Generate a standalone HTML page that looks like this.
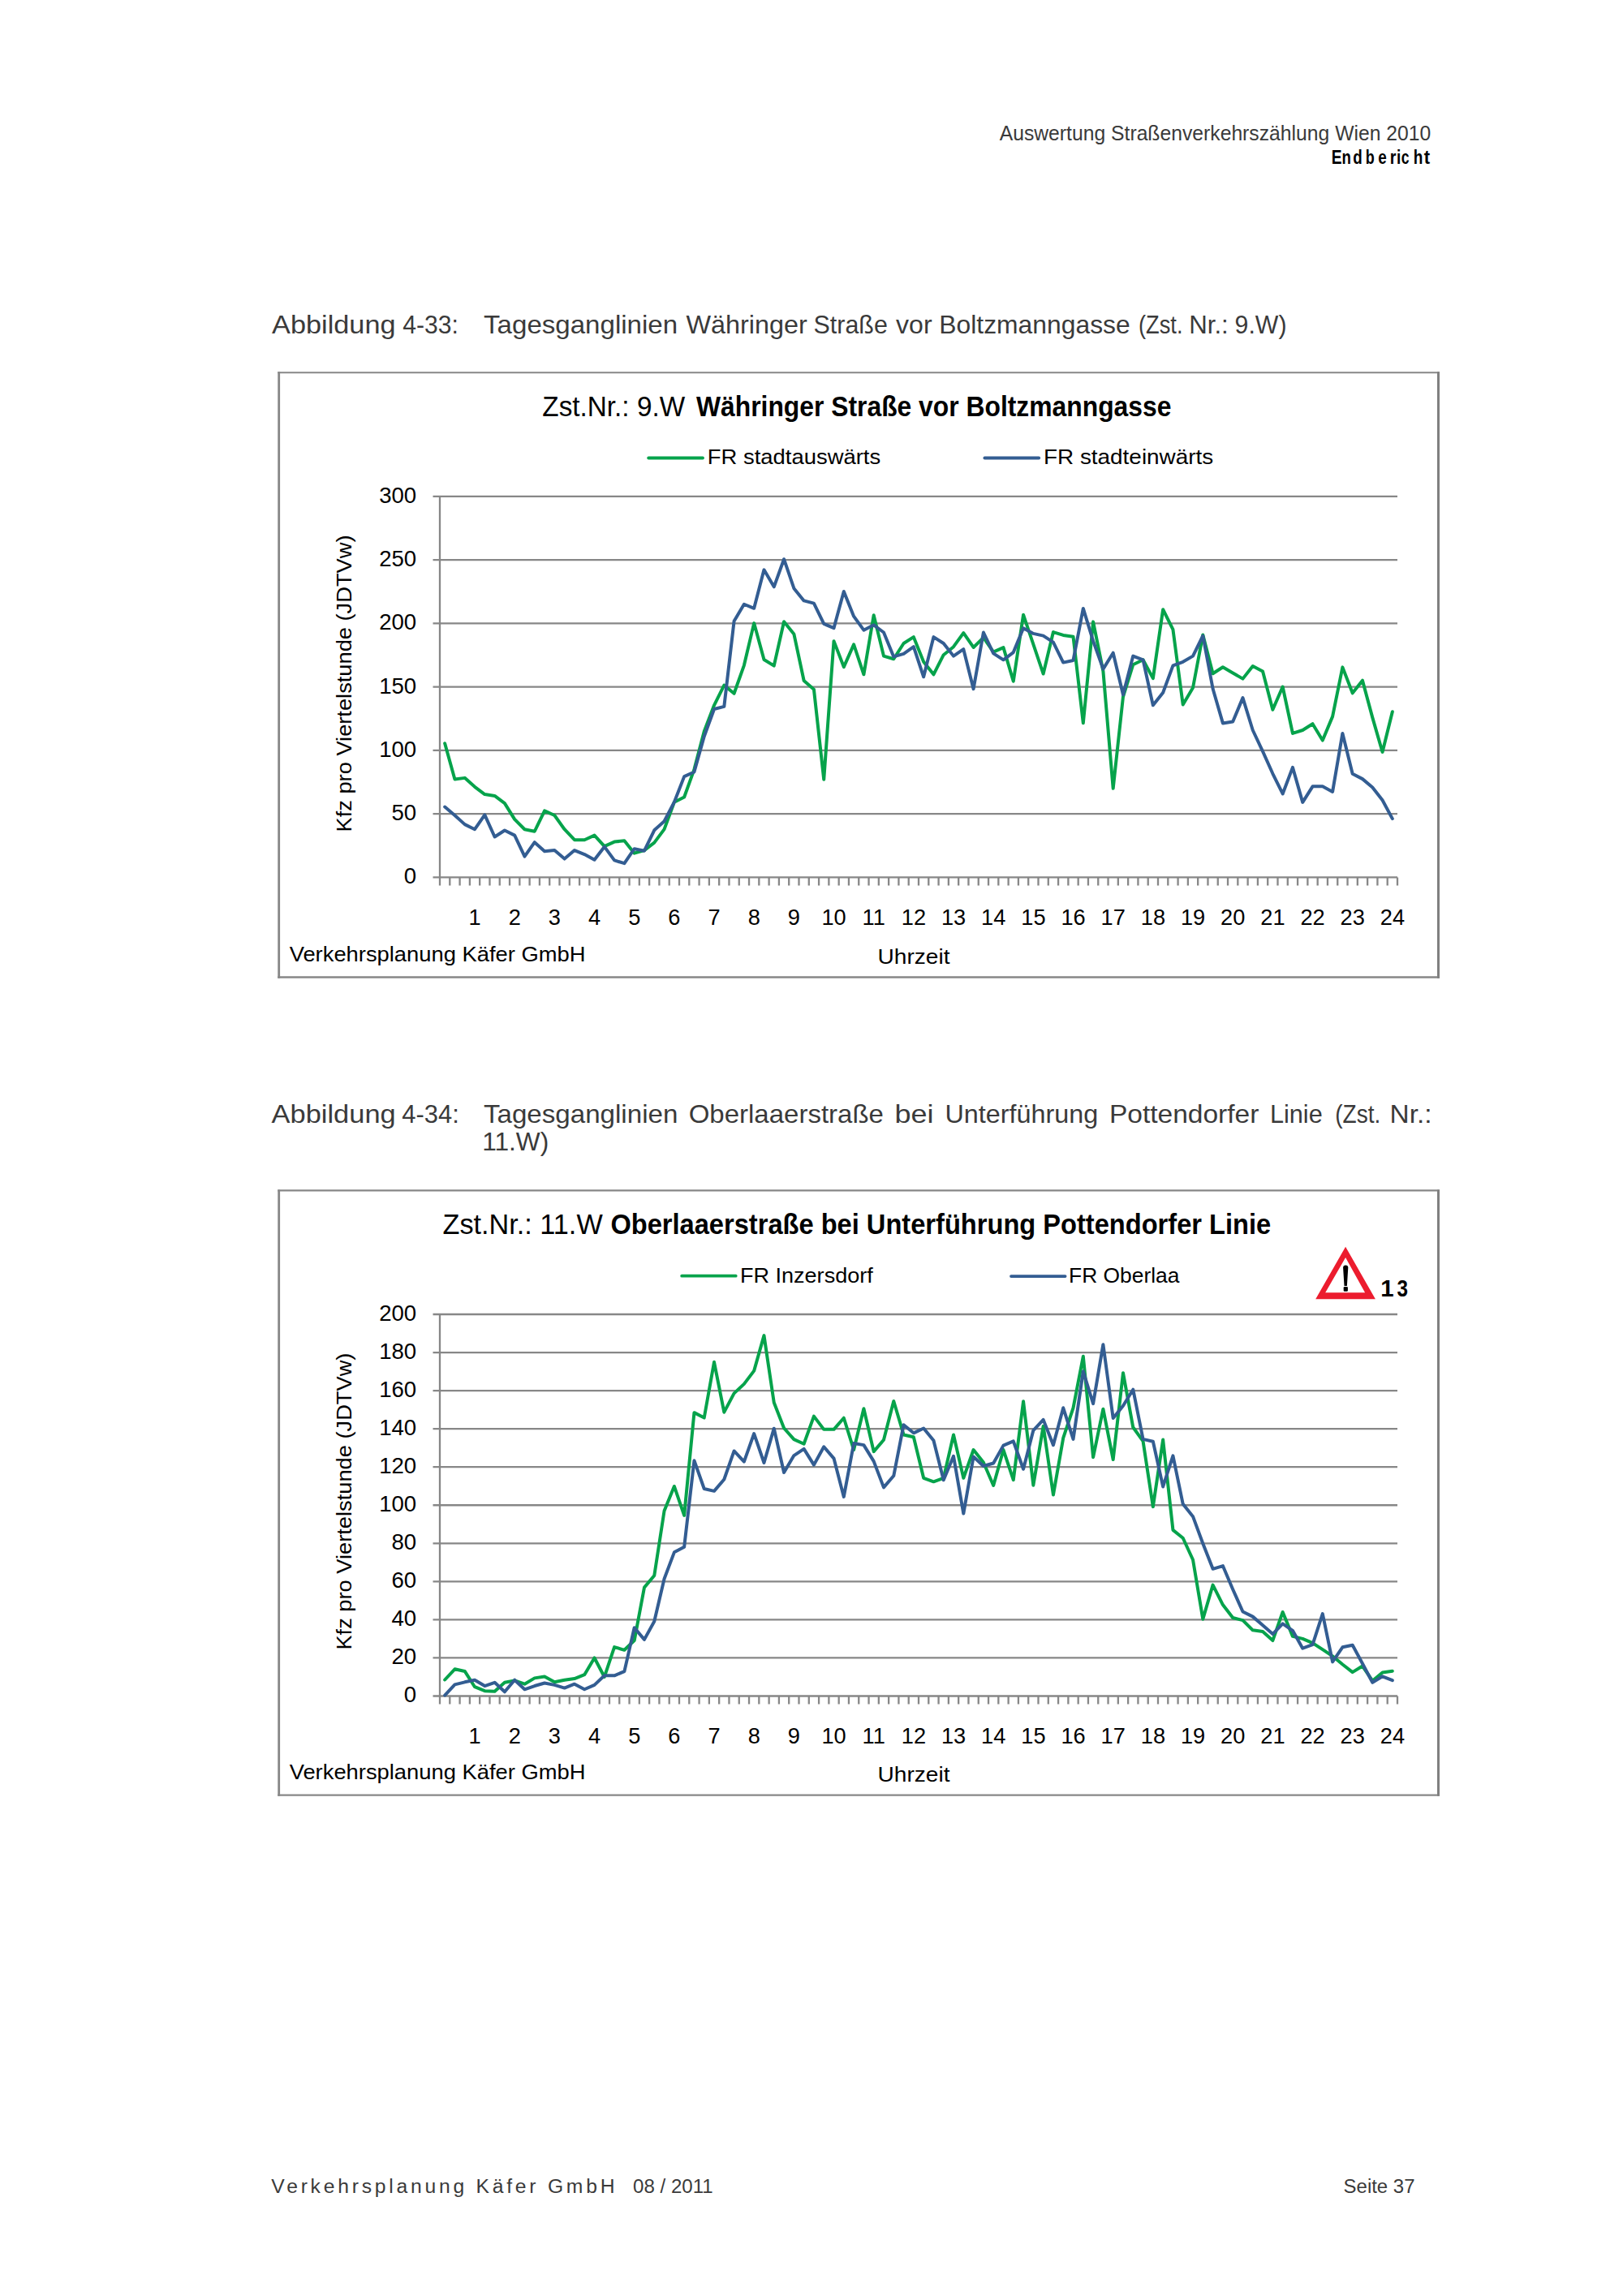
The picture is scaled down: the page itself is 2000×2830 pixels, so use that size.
<!DOCTYPE html>
<html><head><meta charset="utf-8"><title>Tagesganglinien</title>
<style>
html,body{margin:0;padding:0;background:#fff;}
body{width:2000px;height:2830px;overflow:hidden;}
svg{display:block;}
text{font-family:'Liberation Sans', Arial, sans-serif;fill:#000;}
text.d{fill:#3a3a3a;}
</style></head>
<body>
<svg width="2000" height="2830" viewBox="0 0 2000 2830">
<rect width="2000" height="2830" fill="#fff"/>
<text x="1231.7" y="172.6" font-size="25.3" textLength="531.6" lengthAdjust="spacingAndGlyphs" class="d">Auswertung Straßenverkehrszählung Wien 2010</text>
<text x="1640.8" y="201.6" font-size="24.6" textLength="12.8" lengthAdjust="spacingAndGlyphs" font-weight="bold">E</text>
<text x="1653.4" y="201.6" font-size="24.6" textLength="11.4" lengthAdjust="spacingAndGlyphs" font-weight="bold">n</text>
<text x="1667.2" y="201.6" font-size="24.6" textLength="11.5" lengthAdjust="spacingAndGlyphs" font-weight="bold">d</text>
<text x="1682.7" y="201.6" font-size="24.6" textLength="11.0" lengthAdjust="spacingAndGlyphs" font-weight="bold">b</text>
<text x="1698.3" y="201.6" font-size="24.6" textLength="10.5" lengthAdjust="spacingAndGlyphs" font-weight="bold">e</text>
<text x="1712.8" y="201.6" font-size="24.6" textLength="7.7" lengthAdjust="spacingAndGlyphs" font-weight="bold">r</text>
<text x="1721.0" y="201.6" font-size="24.6" textLength="5.3" lengthAdjust="spacingAndGlyphs" font-weight="bold">i</text>
<text x="1726.8" y="201.6" font-size="24.6" textLength="9.8" lengthAdjust="spacingAndGlyphs" font-weight="bold">c</text>
<text x="1741.7" y="201.6" font-size="24.6" textLength="11.6" lengthAdjust="spacingAndGlyphs" font-weight="bold">h</text>
<text x="1754.8" y="201.6" font-size="24.6" textLength="7.4" lengthAdjust="spacingAndGlyphs" font-weight="bold">t</text>
<text x="335.1" y="411.0" font-size="31.2" textLength="152.4" lengthAdjust="spacingAndGlyphs" class="d">Abbildung</text>
<text x="496.2" y="411.0" font-size="31.2" textLength="68.6" lengthAdjust="spacingAndGlyphs" class="d">4-33:</text>
<text x="596.1" y="411.0" font-size="31.2" textLength="239.0" lengthAdjust="spacingAndGlyphs" class="d">Tagesganglinien</text>
<text x="845.5" y="411.0" font-size="31.2" textLength="149.3" lengthAdjust="spacingAndGlyphs" class="d">Währinger</text>
<text x="1002.6" y="411.0" font-size="31.2" textLength="91.2" lengthAdjust="spacingAndGlyphs" class="d">Straße</text>
<text x="1104.1" y="411.0" font-size="31.2" textLength="44.5" lengthAdjust="spacingAndGlyphs" class="d">vor</text>
<text x="1157.3" y="411.0" font-size="31.2" textLength="235.4" lengthAdjust="spacingAndGlyphs" class="d">Boltzmanngasse</text>
<text x="1403.0" y="411.0" font-size="31.2" textLength="54.5" lengthAdjust="spacingAndGlyphs" class="d">(Zst.</text>
<text x="1465.2" y="411.0" font-size="31.2" textLength="48.6" lengthAdjust="spacingAndGlyphs" class="d">Nr.:</text>
<text x="1521.6" y="411.0" font-size="31.2" textLength="63.9" lengthAdjust="spacingAndGlyphs" class="d">9.W)</text>
<text x="334.6" y="1383.5" font-size="31.2" textLength="153.1" lengthAdjust="spacingAndGlyphs" class="d">Abbildung</text>
<text x="495.3" y="1383.5" font-size="31.2" textLength="70.5" lengthAdjust="spacingAndGlyphs" class="d">4-34:</text>
<text x="595.9" y="1383.5" font-size="31.2" textLength="239.5" lengthAdjust="spacingAndGlyphs" class="d">Tagesganglinien</text>
<text x="848.7" y="1383.5" font-size="31.2" textLength="240.2" lengthAdjust="spacingAndGlyphs" class="d">Oberlaaerstraße</text>
<text x="1102.5" y="1383.5" font-size="31.2" textLength="48.1" lengthAdjust="spacingAndGlyphs" class="d">bei</text>
<text x="1164.5" y="1383.5" font-size="31.2" textLength="188.8" lengthAdjust="spacingAndGlyphs" class="d">Unterführung</text>
<text x="1366.9" y="1383.5" font-size="31.2" textLength="184.5" lengthAdjust="spacingAndGlyphs" class="d">Pottendorfer</text>
<text x="1564.9" y="1383.5" font-size="31.2" textLength="64.9" lengthAdjust="spacingAndGlyphs" class="d">Linie</text>
<text x="1645.2" y="1383.5" font-size="31.2" textLength="56.1" lengthAdjust="spacingAndGlyphs" class="d">(Zst.</text>
<text x="1712.6" y="1383.5" font-size="31.2" textLength="52.0" lengthAdjust="spacingAndGlyphs" class="d">Nr.:</text>
<text x="594.2" y="1418.4" font-size="31.2" textLength="82.1" lengthAdjust="spacingAndGlyphs" class="d">11.W)</text>
<text x="334.3" y="2702.9" font-size="24.7" textLength="423.2" lengthAdjust="spacing" class="d">Verkehrsplanung Käfer GmbH</text>
<text x="780.1" y="2702.9" font-size="24.7" textLength="98.6" lengthAdjust="spacingAndGlyphs" class="d">08 / 2011</text>
<text x="1655.6" y="2702.7" font-size="24.7" textLength="87.9" lengthAdjust="spacingAndGlyphs" class="d">Seite 37</text>
<path d="M342.3 459.3H1774.0" stroke="#878787" stroke-width="2.1"/>
<path d="M342.3 1204.5H1774.0" stroke="#878787" stroke-width="2.4"/>
<path d="M343.7 458.2V1205.7" stroke="#878787" stroke-width="2.8"/>
<path d="M1772.5 458.2V1205.7" stroke="#808080" stroke-width="3.0"/>
<text x="513.2" y="1089.2" font-size="27.6" text-anchor="end">0</text>
<text x="513.2" y="1011.0" font-size="27.6" text-anchor="end">50</text>
<text x="513.2" y="932.7" font-size="27.6" text-anchor="end">100</text>
<text x="513.2" y="854.5" font-size="27.6" text-anchor="end">150</text>
<text x="513.2" y="776.2" font-size="27.6" text-anchor="end">200</text>
<text x="513.2" y="697.9" font-size="27.6" text-anchor="end">250</text>
<text x="513.2" y="619.7" font-size="27.6" text-anchor="end">300</text>
<path d="M533.5 1081.40H1722.0 M533.5 1003.15H1722.0 M533.5 924.90H1722.0 M533.5 846.65H1722.0 M533.5 768.40H1722.0 M533.5 690.15H1722.0 M533.5 611.90H1722.0 M542.0 611.90V1091.40 M554.29 1081.40V1091.40 M566.58 1081.40V1091.40 M578.88 1081.40V1091.40 M591.17 1081.40V1091.40 M603.46 1081.40V1091.40 M615.75 1081.40V1091.40 M628.04 1081.40V1091.40 M640.33 1081.40V1091.40 M652.62 1081.40V1091.40 M664.92 1081.40V1091.40 M677.21 1081.40V1091.40 M689.50 1081.40V1091.40 M701.79 1081.40V1091.40 M714.08 1081.40V1091.40 M726.38 1081.40V1091.40 M738.67 1081.40V1091.40 M750.96 1081.40V1091.40 M763.25 1081.40V1091.40 M775.54 1081.40V1091.40 M787.83 1081.40V1091.40 M800.12 1081.40V1091.40 M812.42 1081.40V1091.40 M824.71 1081.40V1091.40 M837.00 1081.40V1091.40 M849.29 1081.40V1091.40 M861.58 1081.40V1091.40 M873.88 1081.40V1091.40 M886.17 1081.40V1091.40 M898.46 1081.40V1091.40 M910.75 1081.40V1091.40 M923.04 1081.40V1091.40 M935.33 1081.40V1091.40 M947.62 1081.40V1091.40 M959.92 1081.40V1091.40 M972.21 1081.40V1091.40 M984.50 1081.40V1091.40 M996.79 1081.40V1091.40 M1009.08 1081.40V1091.40 M1021.38 1081.40V1091.40 M1033.67 1081.40V1091.40 M1045.96 1081.40V1091.40 M1058.25 1081.40V1091.40 M1070.54 1081.40V1091.40 M1082.83 1081.40V1091.40 M1095.12 1081.40V1091.40 M1107.42 1081.40V1091.40 M1119.71 1081.40V1091.40 M1132.00 1081.40V1091.40 M1144.29 1081.40V1091.40 M1156.58 1081.40V1091.40 M1168.88 1081.40V1091.40 M1181.17 1081.40V1091.40 M1193.46 1081.40V1091.40 M1205.75 1081.40V1091.40 M1218.04 1081.40V1091.40 M1230.33 1081.40V1091.40 M1242.62 1081.40V1091.40 M1254.92 1081.40V1091.40 M1267.21 1081.40V1091.40 M1279.50 1081.40V1091.40 M1291.79 1081.40V1091.40 M1304.08 1081.40V1091.40 M1316.38 1081.40V1091.40 M1328.67 1081.40V1091.40 M1340.96 1081.40V1091.40 M1353.25 1081.40V1091.40 M1365.54 1081.40V1091.40 M1377.83 1081.40V1091.40 M1390.12 1081.40V1091.40 M1402.42 1081.40V1091.40 M1414.71 1081.40V1091.40 M1427.00 1081.40V1091.40 M1439.29 1081.40V1091.40 M1451.58 1081.40V1091.40 M1463.88 1081.40V1091.40 M1476.17 1081.40V1091.40 M1488.46 1081.40V1091.40 M1500.75 1081.40V1091.40 M1513.04 1081.40V1091.40 M1525.33 1081.40V1091.40 M1537.62 1081.40V1091.40 M1549.92 1081.40V1091.40 M1562.21 1081.40V1091.40 M1574.50 1081.40V1091.40 M1586.79 1081.40V1091.40 M1599.08 1081.40V1091.40 M1611.38 1081.40V1091.40 M1623.67 1081.40V1091.40 M1635.96 1081.40V1091.40 M1648.25 1081.40V1091.40 M1660.54 1081.40V1091.40 M1672.83 1081.40V1091.40 M1685.12 1081.40V1091.40 M1697.42 1081.40V1091.40 M1709.71 1081.40V1091.40 M1722.00 1081.40V1091.40" stroke="#878787" stroke-width="2.3" fill="none"/>
<text x="585.0" y="1139.9" font-size="27.2" text-anchor="middle">1</text>
<text x="634.2" y="1139.9" font-size="27.2" text-anchor="middle">2</text>
<text x="683.4" y="1139.9" font-size="27.2" text-anchor="middle">3</text>
<text x="732.5" y="1139.9" font-size="27.2" text-anchor="middle">4</text>
<text x="781.7" y="1139.9" font-size="27.2" text-anchor="middle">5</text>
<text x="830.9" y="1139.9" font-size="27.2" text-anchor="middle">6</text>
<text x="880.0" y="1139.9" font-size="27.2" text-anchor="middle">7</text>
<text x="929.2" y="1139.9" font-size="27.2" text-anchor="middle">8</text>
<text x="978.4" y="1139.9" font-size="27.2" text-anchor="middle">9</text>
<text x="1027.5" y="1139.9" font-size="27.2" text-anchor="middle">10</text>
<text x="1076.7" y="1139.9" font-size="27.2" text-anchor="middle">11</text>
<text x="1125.9" y="1139.9" font-size="27.2" text-anchor="middle">12</text>
<text x="1175.0" y="1139.9" font-size="27.2" text-anchor="middle">13</text>
<text x="1224.2" y="1139.9" font-size="27.2" text-anchor="middle">14</text>
<text x="1273.4" y="1139.9" font-size="27.2" text-anchor="middle">15</text>
<text x="1322.5" y="1139.9" font-size="27.2" text-anchor="middle">16</text>
<text x="1371.7" y="1139.9" font-size="27.2" text-anchor="middle">17</text>
<text x="1420.9" y="1139.9" font-size="27.2" text-anchor="middle">18</text>
<text x="1470.0" y="1139.9" font-size="27.2" text-anchor="middle">19</text>
<text x="1519.2" y="1139.9" font-size="27.2" text-anchor="middle">20</text>
<text x="1568.4" y="1139.9" font-size="27.2" text-anchor="middle">21</text>
<text x="1617.5" y="1139.9" font-size="27.2" text-anchor="middle">22</text>
<text x="1666.7" y="1139.9" font-size="27.2" text-anchor="middle">23</text>
<text x="1715.9" y="1139.9" font-size="27.2" text-anchor="middle">24</text>
<polyline points="548.15,916.29 560.44,960.58 572.73,958.86 585.02,969.82 597.31,979.05 609.60,980.93 621.90,990.16 634.19,1009.88 646.48,1022.24 658.77,1024.75 671.06,999.39 683.35,1005.03 695.65,1022.24 707.94,1035.23 720.23,1035.23 732.52,1029.60 744.81,1043.06 757.10,1037.58 769.40,1036.33 781.69,1051.67 793.98,1048.07 806.27,1038.68 818.56,1022.09 830.85,988.75 843.15,982.49 855.44,948.38 867.73,901.43 880.02,869.34 892.31,844.62 904.60,854.79 916.90,820.05 929.19,768.09 941.48,813.00 953.77,820.67 966.06,766.21 978.35,781.39 990.65,838.98 1002.94,849.78 1015.23,960.74 1027.52,790.15 1039.81,822.08 1052.10,794.38 1064.40,831.31 1076.69,758.23 1088.98,808.62 1101.27,812.22 1113.56,792.97 1125.85,785.15 1138.15,815.66 1150.44,831.31 1162.73,807.21 1175.02,797.20 1187.31,780.14 1199.60,797.98 1211.90,785.93 1224.19,803.61 1236.48,798.13 1248.77,839.76 1261.06,757.76 1273.35,794.22 1285.65,830.53 1297.94,779.04 1310.23,782.95 1322.52,784.83 1334.81,891.25 1347.10,766.37 1359.40,827.24 1371.69,971.85 1383.98,858.86 1396.27,819.26 1408.56,813.32 1420.85,836.16 1433.15,751.18 1445.44,775.91 1457.73,868.56 1470.02,847.75 1482.31,782.49 1494.60,830.22 1506.90,822.24 1519.19,829.44 1531.48,836.63 1543.77,820.98 1556.06,827.56 1568.35,874.82 1580.65,846.49 1592.94,903.93 1605.23,900.02 1617.52,892.19 1629.81,912.54 1642.10,883.11 1654.40,822.39 1666.69,854.32 1678.98,838.67 1691.27,884.37 1703.56,926.93 1715.85,877.17" fill="none" stroke="#06a34b" stroke-width="4.0" stroke-linejoin="round" stroke-linecap="round"/>
<polyline points="548.15,994.54 560.44,1005.03 572.73,1016.14 585.02,1022.24 597.31,1004.40 609.60,1031.48 621.90,1023.50 634.19,1029.60 646.48,1055.58 658.77,1038.21 671.06,1049.32 683.35,1048.07 695.65,1058.55 707.94,1048.07 720.23,1053.07 732.52,1059.80 744.81,1043.68 757.10,1060.43 769.40,1064.19 781.69,1046.19 793.98,1048.69 806.27,1023.34 818.56,1012.23 830.85,988.75 843.15,957.14 855.44,951.51 867.73,907.69 880.02,874.04 892.31,870.91 904.60,765.58 916.90,744.77 929.19,749.78 941.48,702.36 953.77,723.33 966.06,689.21 978.35,725.21 990.65,740.39 1002.94,743.67 1015.23,768.87 1027.52,774.19 1039.81,728.96 1052.10,759.64 1064.40,776.69 1076.69,770.28 1088.98,779.51 1101.27,809.40 1113.56,805.80 1125.85,797.20 1138.15,834.29 1150.44,785.15 1162.73,792.97 1175.02,808.62 1187.31,800.17 1199.60,849.15 1211.90,779.51 1224.19,805.33 1236.48,813.32 1248.77,804.08 1261.06,774.35 1273.35,780.92 1285.65,783.58 1297.94,791.56 1310.23,816.60 1322.52,813.94 1334.81,749.93 1347.10,790.15 1359.40,824.58 1371.69,804.71 1383.98,856.20 1396.27,808.62 1408.56,813.32 1420.85,869.34 1433.15,853.69 1445.44,820.36 1457.73,815.82 1470.02,808.62 1482.31,783.74 1494.60,849.00 1506.90,891.41 1519.19,889.53 1531.48,860.11 1543.77,900.02 1556.06,926.15 1568.35,953.54 1580.65,978.42 1592.94,945.87 1605.23,988.91 1617.52,969.35 1629.81,969.35 1642.10,975.92 1654.40,903.93 1666.69,953.70 1678.98,960.11 1691.27,970.60 1703.56,986.25 1715.85,1009.10" fill="none" stroke="#335d92" stroke-width="4.0" stroke-linejoin="round" stroke-linecap="round"/>
<text x="668.3" y="512.5" font-size="34.3" textLength="175.8" lengthAdjust="spacingAndGlyphs">Zst.Nr.: 9.W</text>
<text x="858.0" y="512.5" font-size="34.3" textLength="585.4" lengthAdjust="spacingAndGlyphs" font-weight="bold">Währinger Straße vor Boltzmanngasse</text>
<line x1="799.2" y1="564.5" x2="866" y2="564.5" stroke="#06a34b" stroke-width="3.8" stroke-linecap="round"/>
<text x="871.8" y="571.5" font-size="25" textLength="213.4" lengthAdjust="spacingAndGlyphs">FR stadtauswärts</text>
<line x1="1213.4" y1="564.5" x2="1280.2" y2="564.5" stroke="#335d92" stroke-width="3.8" stroke-linecap="round"/>
<text x="1286.0" y="571.5" font-size="25" textLength="209.2" lengthAdjust="spacingAndGlyphs">FR stadteinwärts</text>
<text transform="translate(433,842.5) rotate(-90)" x="-183.0" y="0" font-size="26.6" textLength="366.0" lengthAdjust="spacingAndGlyphs">Kfz pro Viertelstunde (JDTVw)</text>
<text x="356.7" y="1185.0" font-size="25" textLength="364.7" lengthAdjust="spacingAndGlyphs">Verkehrsplanung Käfer GmbH</text>
<text x="1081.5" y="1187.5" font-size="25" textLength="89.0" lengthAdjust="spacingAndGlyphs">Uhrzeit</text>
<path d="M342.3 1467.4H1774.0" stroke="#878787" stroke-width="2.1"/>
<path d="M342.3 2212.6H1774.0" stroke="#878787" stroke-width="2.4"/>
<path d="M343.7 1466.4V2213.8" stroke="#878787" stroke-width="2.8"/>
<path d="M1772.5 1466.4V2213.8" stroke="#808080" stroke-width="3.0"/>
<text x="513.2" y="2098.3" font-size="27.6" text-anchor="end">0</text>
<text x="513.2" y="2051.2" font-size="27.6" text-anchor="end">20</text>
<text x="513.2" y="2004.2" font-size="27.6" text-anchor="end">40</text>
<text x="513.2" y="1957.1" font-size="27.6" text-anchor="end">60</text>
<text x="513.2" y="1910.1" font-size="27.6" text-anchor="end">80</text>
<text x="513.2" y="1863.0" font-size="27.6" text-anchor="end">100</text>
<text x="513.2" y="1816.0" font-size="27.6" text-anchor="end">120</text>
<text x="513.2" y="1769.0" font-size="27.6" text-anchor="end">140</text>
<text x="513.2" y="1721.9" font-size="27.6" text-anchor="end">160</text>
<text x="513.2" y="1674.8" font-size="27.6" text-anchor="end">180</text>
<text x="513.2" y="1627.8" font-size="27.6" text-anchor="end">200</text>
<path d="M533.5 2090.50H1722.0 M533.5 2043.45H1722.0 M533.5 1996.40H1722.0 M533.5 1949.35H1722.0 M533.5 1902.30H1722.0 M533.5 1855.25H1722.0 M533.5 1808.20H1722.0 M533.5 1761.15H1722.0 M533.5 1714.10H1722.0 M533.5 1667.05H1722.0 M533.5 1620.00H1722.0 M542.0 1620.00V2100.50 M554.29 2090.50V2100.50 M566.58 2090.50V2100.50 M578.88 2090.50V2100.50 M591.17 2090.50V2100.50 M603.46 2090.50V2100.50 M615.75 2090.50V2100.50 M628.04 2090.50V2100.50 M640.33 2090.50V2100.50 M652.62 2090.50V2100.50 M664.92 2090.50V2100.50 M677.21 2090.50V2100.50 M689.50 2090.50V2100.50 M701.79 2090.50V2100.50 M714.08 2090.50V2100.50 M726.38 2090.50V2100.50 M738.67 2090.50V2100.50 M750.96 2090.50V2100.50 M763.25 2090.50V2100.50 M775.54 2090.50V2100.50 M787.83 2090.50V2100.50 M800.12 2090.50V2100.50 M812.42 2090.50V2100.50 M824.71 2090.50V2100.50 M837.00 2090.50V2100.50 M849.29 2090.50V2100.50 M861.58 2090.50V2100.50 M873.88 2090.50V2100.50 M886.17 2090.50V2100.50 M898.46 2090.50V2100.50 M910.75 2090.50V2100.50 M923.04 2090.50V2100.50 M935.33 2090.50V2100.50 M947.62 2090.50V2100.50 M959.92 2090.50V2100.50 M972.21 2090.50V2100.50 M984.50 2090.50V2100.50 M996.79 2090.50V2100.50 M1009.08 2090.50V2100.50 M1021.38 2090.50V2100.50 M1033.67 2090.50V2100.50 M1045.96 2090.50V2100.50 M1058.25 2090.50V2100.50 M1070.54 2090.50V2100.50 M1082.83 2090.50V2100.50 M1095.12 2090.50V2100.50 M1107.42 2090.50V2100.50 M1119.71 2090.50V2100.50 M1132.00 2090.50V2100.50 M1144.29 2090.50V2100.50 M1156.58 2090.50V2100.50 M1168.88 2090.50V2100.50 M1181.17 2090.50V2100.50 M1193.46 2090.50V2100.50 M1205.75 2090.50V2100.50 M1218.04 2090.50V2100.50 M1230.33 2090.50V2100.50 M1242.62 2090.50V2100.50 M1254.92 2090.50V2100.50 M1267.21 2090.50V2100.50 M1279.50 2090.50V2100.50 M1291.79 2090.50V2100.50 M1304.08 2090.50V2100.50 M1316.38 2090.50V2100.50 M1328.67 2090.50V2100.50 M1340.96 2090.50V2100.50 M1353.25 2090.50V2100.50 M1365.54 2090.50V2100.50 M1377.83 2090.50V2100.50 M1390.12 2090.50V2100.50 M1402.42 2090.50V2100.50 M1414.71 2090.50V2100.50 M1427.00 2090.50V2100.50 M1439.29 2090.50V2100.50 M1451.58 2090.50V2100.50 M1463.88 2090.50V2100.50 M1476.17 2090.50V2100.50 M1488.46 2090.50V2100.50 M1500.75 2090.50V2100.50 M1513.04 2090.50V2100.50 M1525.33 2090.50V2100.50 M1537.62 2090.50V2100.50 M1549.92 2090.50V2100.50 M1562.21 2090.50V2100.50 M1574.50 2090.50V2100.50 M1586.79 2090.50V2100.50 M1599.08 2090.50V2100.50 M1611.38 2090.50V2100.50 M1623.67 2090.50V2100.50 M1635.96 2090.50V2100.50 M1648.25 2090.50V2100.50 M1660.54 2090.50V2100.50 M1672.83 2090.50V2100.50 M1685.12 2090.50V2100.50 M1697.42 2090.50V2100.50 M1709.71 2090.50V2100.50 M1722.00 2090.50V2100.50" stroke="#878787" stroke-width="2.3" fill="none"/>
<text x="585.0" y="2149.0" font-size="27.2" text-anchor="middle">1</text>
<text x="634.2" y="2149.0" font-size="27.2" text-anchor="middle">2</text>
<text x="683.4" y="2149.0" font-size="27.2" text-anchor="middle">3</text>
<text x="732.5" y="2149.0" font-size="27.2" text-anchor="middle">4</text>
<text x="781.7" y="2149.0" font-size="27.2" text-anchor="middle">5</text>
<text x="830.9" y="2149.0" font-size="27.2" text-anchor="middle">6</text>
<text x="880.0" y="2149.0" font-size="27.2" text-anchor="middle">7</text>
<text x="929.2" y="2149.0" font-size="27.2" text-anchor="middle">8</text>
<text x="978.4" y="2149.0" font-size="27.2" text-anchor="middle">9</text>
<text x="1027.5" y="2149.0" font-size="27.2" text-anchor="middle">10</text>
<text x="1076.7" y="2149.0" font-size="27.2" text-anchor="middle">11</text>
<text x="1125.9" y="2149.0" font-size="27.2" text-anchor="middle">12</text>
<text x="1175.0" y="2149.0" font-size="27.2" text-anchor="middle">13</text>
<text x="1224.2" y="2149.0" font-size="27.2" text-anchor="middle">14</text>
<text x="1273.4" y="2149.0" font-size="27.2" text-anchor="middle">15</text>
<text x="1322.5" y="2149.0" font-size="27.2" text-anchor="middle">16</text>
<text x="1371.7" y="2149.0" font-size="27.2" text-anchor="middle">17</text>
<text x="1420.9" y="2149.0" font-size="27.2" text-anchor="middle">18</text>
<text x="1470.0" y="2149.0" font-size="27.2" text-anchor="middle">19</text>
<text x="1519.2" y="2149.0" font-size="27.2" text-anchor="middle">20</text>
<text x="1568.4" y="2149.0" font-size="27.2" text-anchor="middle">21</text>
<text x="1617.5" y="2149.0" font-size="27.2" text-anchor="middle">22</text>
<text x="1666.7" y="2149.0" font-size="27.2" text-anchor="middle">23</text>
<text x="1715.9" y="2149.0" font-size="27.2" text-anchor="middle">24</text>
<polyline points="548.15,2070.50 560.44,2057.33 572.73,2059.92 585.02,2079.21 597.31,2084.15 609.60,2084.85 621.90,2073.80 634.19,2071.44 646.48,2075.68 658.77,2068.39 671.06,2066.50 683.35,2073.33 695.65,2070.74 707.94,2069.09 720.23,2064.15 732.52,2043.45 744.81,2066.97 757.10,2030.04 769.40,2033.80 781.69,2022.04 793.98,1956.64 806.27,1942.06 818.56,1862.31 830.85,1831.96 843.15,1867.95 855.44,1741.15 867.73,1747.51 880.02,1678.81 892.31,1740.68 904.60,1717.39 916.90,1705.87 929.19,1689.63 941.48,1646.11 953.77,1728.69 966.06,1760.21 978.35,1774.09 990.65,1779.73 1002.94,1745.62 1015.23,1761.86 1027.52,1761.86 1039.81,1747.74 1052.10,1787.03 1064.40,1736.21 1076.69,1789.14 1088.98,1774.79 1101.27,1727.04 1113.56,1768.44 1125.85,1771.27 1138.15,1821.84 1150.44,1826.31 1162.73,1821.84 1175.02,1768.44 1187.31,1821.84 1199.60,1787.03 1211.90,1802.55 1224.19,1831.02 1236.48,1787.03 1248.77,1824.20 1261.06,1727.27 1273.35,1830.78 1285.65,1757.86 1297.94,1842.55 1310.23,1772.44 1322.52,1735.27 1334.81,1671.76 1347.10,1796.20 1359.40,1736.68 1371.69,1799.03 1383.98,1692.22 1396.27,1759.27 1408.56,1776.44 1420.85,1857.13 1433.15,1774.56 1445.44,1885.83 1457.73,1895.71 1470.02,1922.53 1482.31,1995.69 1494.60,1953.58 1506.90,1978.05 1519.19,1994.05 1531.48,1997.11 1543.77,2009.34 1556.06,2010.99 1568.35,2022.04 1580.65,1986.99 1592.94,2016.87 1605.23,2019.92 1617.52,2025.10 1629.81,2033.10 1642.10,2041.33 1654.40,2051.45 1666.69,2061.09 1678.98,2053.57 1691.27,2071.68 1703.56,2061.56 1715.85,2059.68" fill="none" stroke="#06a34b" stroke-width="4.0" stroke-linejoin="round" stroke-linecap="round"/>
<polyline points="548.15,2089.56 560.44,2076.39 572.73,2073.33 585.02,2070.74 597.31,2078.03 609.60,2073.80 621.90,2085.32 634.19,2070.74 646.48,2082.27 658.77,2078.03 671.06,2074.50 683.35,2076.86 695.65,2080.62 707.94,2075.68 720.23,2082.27 732.52,2076.86 744.81,2065.33 757.10,2065.33 769.40,2060.15 781.69,2006.28 793.98,2020.87 806.27,1998.52 818.56,1946.06 830.85,1913.36 843.15,1906.77 855.44,1800.20 867.73,1835.02 880.02,1837.84 892.31,1823.49 904.60,1788.44 916.90,1801.61 929.19,1767.03 941.48,1803.02 953.77,1760.68 966.06,1815.02 978.35,1794.09 990.65,1785.85 1002.94,1805.61 1015.23,1783.26 1027.52,1797.61 1039.81,1844.90 1052.10,1779.03 1064.40,1781.15 1076.69,1801.14 1088.98,1833.37 1101.27,1819.02 1113.56,1756.21 1125.85,1766.33 1138.15,1760.44 1150.44,1775.50 1162.73,1824.20 1175.02,1794.79 1187.31,1865.60 1199.60,1795.50 1211.90,1807.02 1224.19,1803.49 1236.48,1781.62 1248.77,1776.44 1261.06,1810.79 1273.35,1763.03 1285.65,1749.86 1297.94,1781.15 1310.23,1735.27 1322.52,1773.85 1334.81,1690.34 1347.10,1730.10 1359.40,1657.17 1371.69,1747.98 1383.98,1732.68 1396.27,1712.69 1408.56,1773.85 1420.85,1776.68 1433.15,1832.43 1445.44,1794.32 1457.73,1853.84 1470.02,1869.13 1482.31,1902.54 1494.60,1933.82 1506.90,1930.06 1519.19,1959.00 1531.48,1986.52 1543.77,1992.64 1556.06,2003.22 1568.35,2014.04 1580.65,2001.34 1592.94,2009.81 1605.23,2031.69 1617.52,2027.22 1629.81,1989.11 1642.10,2048.39 1654.40,2030.28 1666.69,2027.69 1678.98,2050.51 1691.27,2073.80 1703.56,2066.27 1715.85,2071.21" fill="none" stroke="#335d92" stroke-width="4.0" stroke-linejoin="round" stroke-linecap="round"/>
<text x="545.5" y="1520.6" font-size="34.3" textLength="197.2" lengthAdjust="spacingAndGlyphs">Zst.Nr.: 11.W</text>
<text x="752.4" y="1520.6" font-size="34.3" textLength="813.8" lengthAdjust="spacingAndGlyphs" font-weight="bold">Oberlaaerstraße bei Unterführung Pottendorfer Linie</text>
<line x1="840.2" y1="1572.7" x2="906.7" y2="1572.7" stroke="#06a34b" stroke-width="3.8" stroke-linecap="round"/>
<text x="911.9" y="1581.0" font-size="25" textLength="163.9" lengthAdjust="spacingAndGlyphs">FR Inzersdorf</text>
<line x1="1246" y1="1573.1" x2="1312.6" y2="1573.1" stroke="#335d92" stroke-width="3.8" stroke-linecap="round"/>
<text x="1317.1" y="1581.0" font-size="25" textLength="136.3" lengthAdjust="spacingAndGlyphs">FR Oberlaa</text>
<text transform="translate(433,1850.6) rotate(-90)" x="-183.0" y="0" font-size="26.6" textLength="366.0" lengthAdjust="spacingAndGlyphs">Kfz pro Viertelstunde (JDTVw)</text>
<text x="356.7" y="2193.1" font-size="25" textLength="364.7" lengthAdjust="spacingAndGlyphs">Verkehrsplanung Käfer GmbH</text>
<text x="1081.5" y="2195.6" font-size="25" textLength="89.0" lengthAdjust="spacingAndGlyphs">Uhrzeit</text>
<path d="M1658.1 1536.8 L1694.9 1601.3 L1621.2 1601.3 Z M1658.1 1550 L1633.2 1593.3 L1682.1 1593.3 Z" fill="#ec1c2e" fill-rule="evenodd"/>
<path d="M1655.1 1562.5 Q1655.1 1559.6 1658.2 1559.6 Q1661.3 1559.6 1661.3 1562.5 L1659.9 1585 L1656.5 1585 Z" fill="#000"/>
<rect x="1655.7" y="1586.1" width="5.2" height="5.6" rx="1.2" fill="#000"/>
<text x="1709.5" y="1598.1" font-size="29.4" text-anchor="middle" font-weight="bold">1</text>
<text x="1721.5" y="1598.1" font-size="29.4" textLength="13.5" lengthAdjust="spacingAndGlyphs" font-weight="bold">3</text>
</svg>
</body></html>
